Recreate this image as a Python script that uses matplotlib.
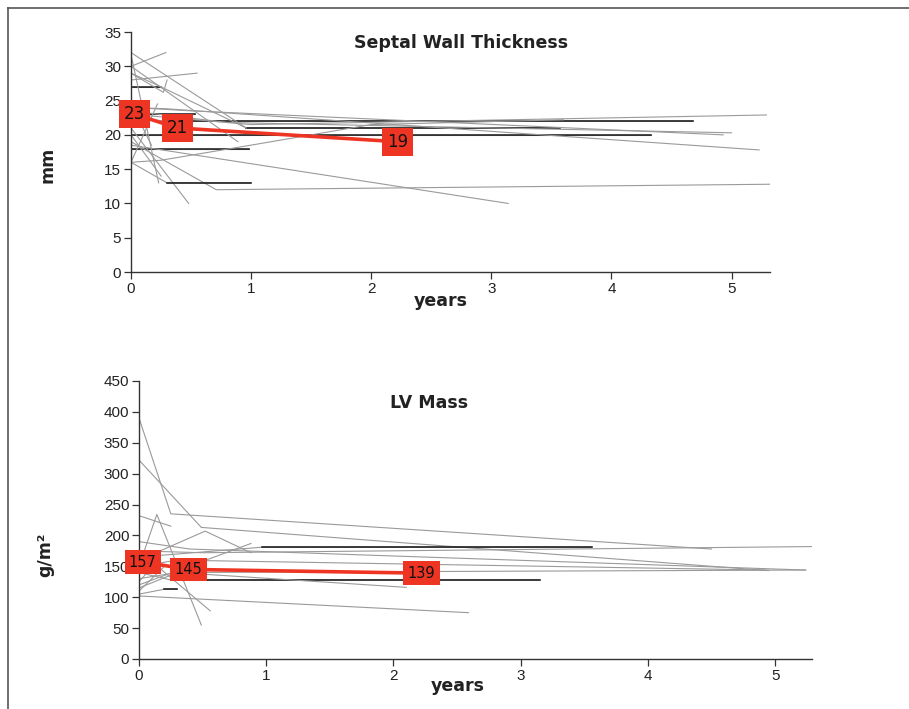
import matplotlib.pyplot as plt
from matplotlib.lines import Line2D

# septal wall thickness, one list per patient (years, mm)
sw_times = [
    [0, 0.25], [0, 0.53], [0, 0.98], [0, 4.33], [0, 0.3, 4.68],
    [0, 0.96, 3.57], [0, 0.29], [0, 0.55], [0, 0.27, 0.3], [0, 0.23],
    [0, 0.89], [0, 0.48], [0, 0.71, 5.33], [0, 3.14], [0, 0.3, 1.0],
    [0, 0.25, 1.0, 2.0, 3.6], [0, 0.5, 4.93], [0, 0.3, 5.23], [0, 1.0, 5.29],
    [0, 0.22], [0, 0.25], [0, 0.8, 5.0], [0, 0.25, 0.96], [0, 0.17],
]
sw_values = [
    [27, 27], [23, 23], [18, 18], [20, 20], [22.5, 22, 22],
    [32, 21, 21], [30, 32], [28, 29], [29, 26.2, 28], [31.7, 13],
    [30, 19], [21, 10], [19, 12, 12.8], [18.5, 10], [16, 13, 13],
    [16, 16.3, 18.5, 21.5, 22.2], [24, 23.5, 20], [24, 23.8, 17.8], [23, 21.5, 22.9],
    [16, 24.5], [20, 14], [23.5, 21.8, 20.3], [29, 27, 21], [24.5, 18.5],
]
# patient index -> first point of the black (flat) part
sw_dark = {0: 0, 1: 0, 2: 0, 3: 0, 4: 1, 5: 1, 14: 1}

# LV mass index per patient (years, g/m2)
lv_times = [
    [0, 0.25, 4.5], [0, 0.49, 4.95], [0, 0.52, 0.88], [0, 0.25], [0, 0.4, 5.24],
    [0, 0.97, 3.56], [0, 0.14, 0.49], [0, 0.56], [0, 2.59], [0, 0.25, 3.15],
    [0, 0.88], [0, 0.5, 5.29], [0, 0.3, 5.24], [0, 0.3, 4.93], [0, 0.2, 0.3],
    [0, 0.3, 2.1], [0, 0.2], [0, 0.15],
]
lv_values = [
    [390, 235, 178], [322, 213, 143], [160, 207, 172], [232, 215], [190, 178, 144],
    [165, 181, 181], [150, 234, 55], [175, 78], [102, 75], [140, 128, 128],
    [120, 187], [175, 172, 182], [115, 140, 144], [150, 160, 144], [105, 113, 113],
    [130, 140, 116], [110, 150], [125, 160],
]
lv_dark = {5: 1, 9: 1, 14: 1}

# group means
mean_t = [0.03, 0.39, 2.22]
sw_mean = [23, 21, 19]
lv_mean = [157, 145, 139]

RED = "#ee3524"

fig = plt.figure(figsize=(9.09, 7.09), dpi=100)

fig.add_artist(Line2D([8 / 909, 1], [1 - 8 / 709, 1 - 8 / 709], color="#555555", lw=1.2))
fig.add_artist(Line2D([8 / 909, 8 / 909], [0, 1 - 8 / 709], color="#555555", lw=1.2))


def panel(rect, times, values, dark, mean, xmax, ymax, ystep, fs):
    ax = fig.add_axes(rect)
    for i, (t, v) in enumerate(zip(times, values)):
        ax.plot(t, v, color="#9a9a9a", lw=0.8)
        if i in dark:
            k = dark[i]
            ax.plot(t[k:], v[k:], color="#151515", lw=1.1)
    ax.plot(mean_t, mean, color=RED, lw=2.6, zorder=5)
    for t, v in zip(mean_t, mean):
        ax.text(t, v, str(v), ha="center", va="center", fontsize=fs, color="#111111",
                zorder=6, clip_on=False,
                bbox=dict(boxstyle="square,pad=0.3", fc=RED, ec="none"))
    ax.set_xlim(0, xmax)
    ax.set_ylim(0, ymax)
    ax.set_xticks(range(6))
    ax.set_yticks(range(0, ymax + 1, ystep))
    for s in ["top", "right"]:
        ax.spines[s].set_visible(False)
    for s in ["left", "bottom"]:
        ax.spines[s].set_color("#333333")
        ax.spines[s].set_linewidth(1.0)
    ax.tick_params(direction="out", length=5, width=0.9, color="#333333",
                   labelsize=11, labelcolor="#222222", pad=2)
    for lab in ax.get_xticklabels() + ax.get_yticklabels():
        lab.set_family("Liberation Sans")
    return ax


panel([131 / 909, 1 - 272 / 709, 639 / 909, 240 / 709],
      sw_times, sw_values, sw_dark, sw_mean, 5.32, 35, 5, 12)
panel([139 / 909, 1 - 659 / 709, 673 / 909, 278 / 709],
      lv_times, lv_values, lv_dark, lv_mean, 5.29, 450, 50, 10.5)

lab = dict(ha="center", va="center", fontsize=12.5, fontweight="bold", color="#222222")
fig.text(461 / 909, 1 - 43 / 709, "Septal Wall Thickness", **lab)
fig.text(429 / 909, 1 - 403 / 709, "LV Mass", **lab)
fig.text(441 / 909, 1 - 301 / 709, "years", **lab)
fig.text(458 / 909, 1 - 686 / 709, "years", **lab)
fig.text(48 / 909, 1 - 165 / 709, "mm", rotation=90, **lab)
fig.text(45 / 909, 1 - 555 / 709, "g/m²", rotation=90, **lab)

fig.savefig("out.png", dpi=100)
